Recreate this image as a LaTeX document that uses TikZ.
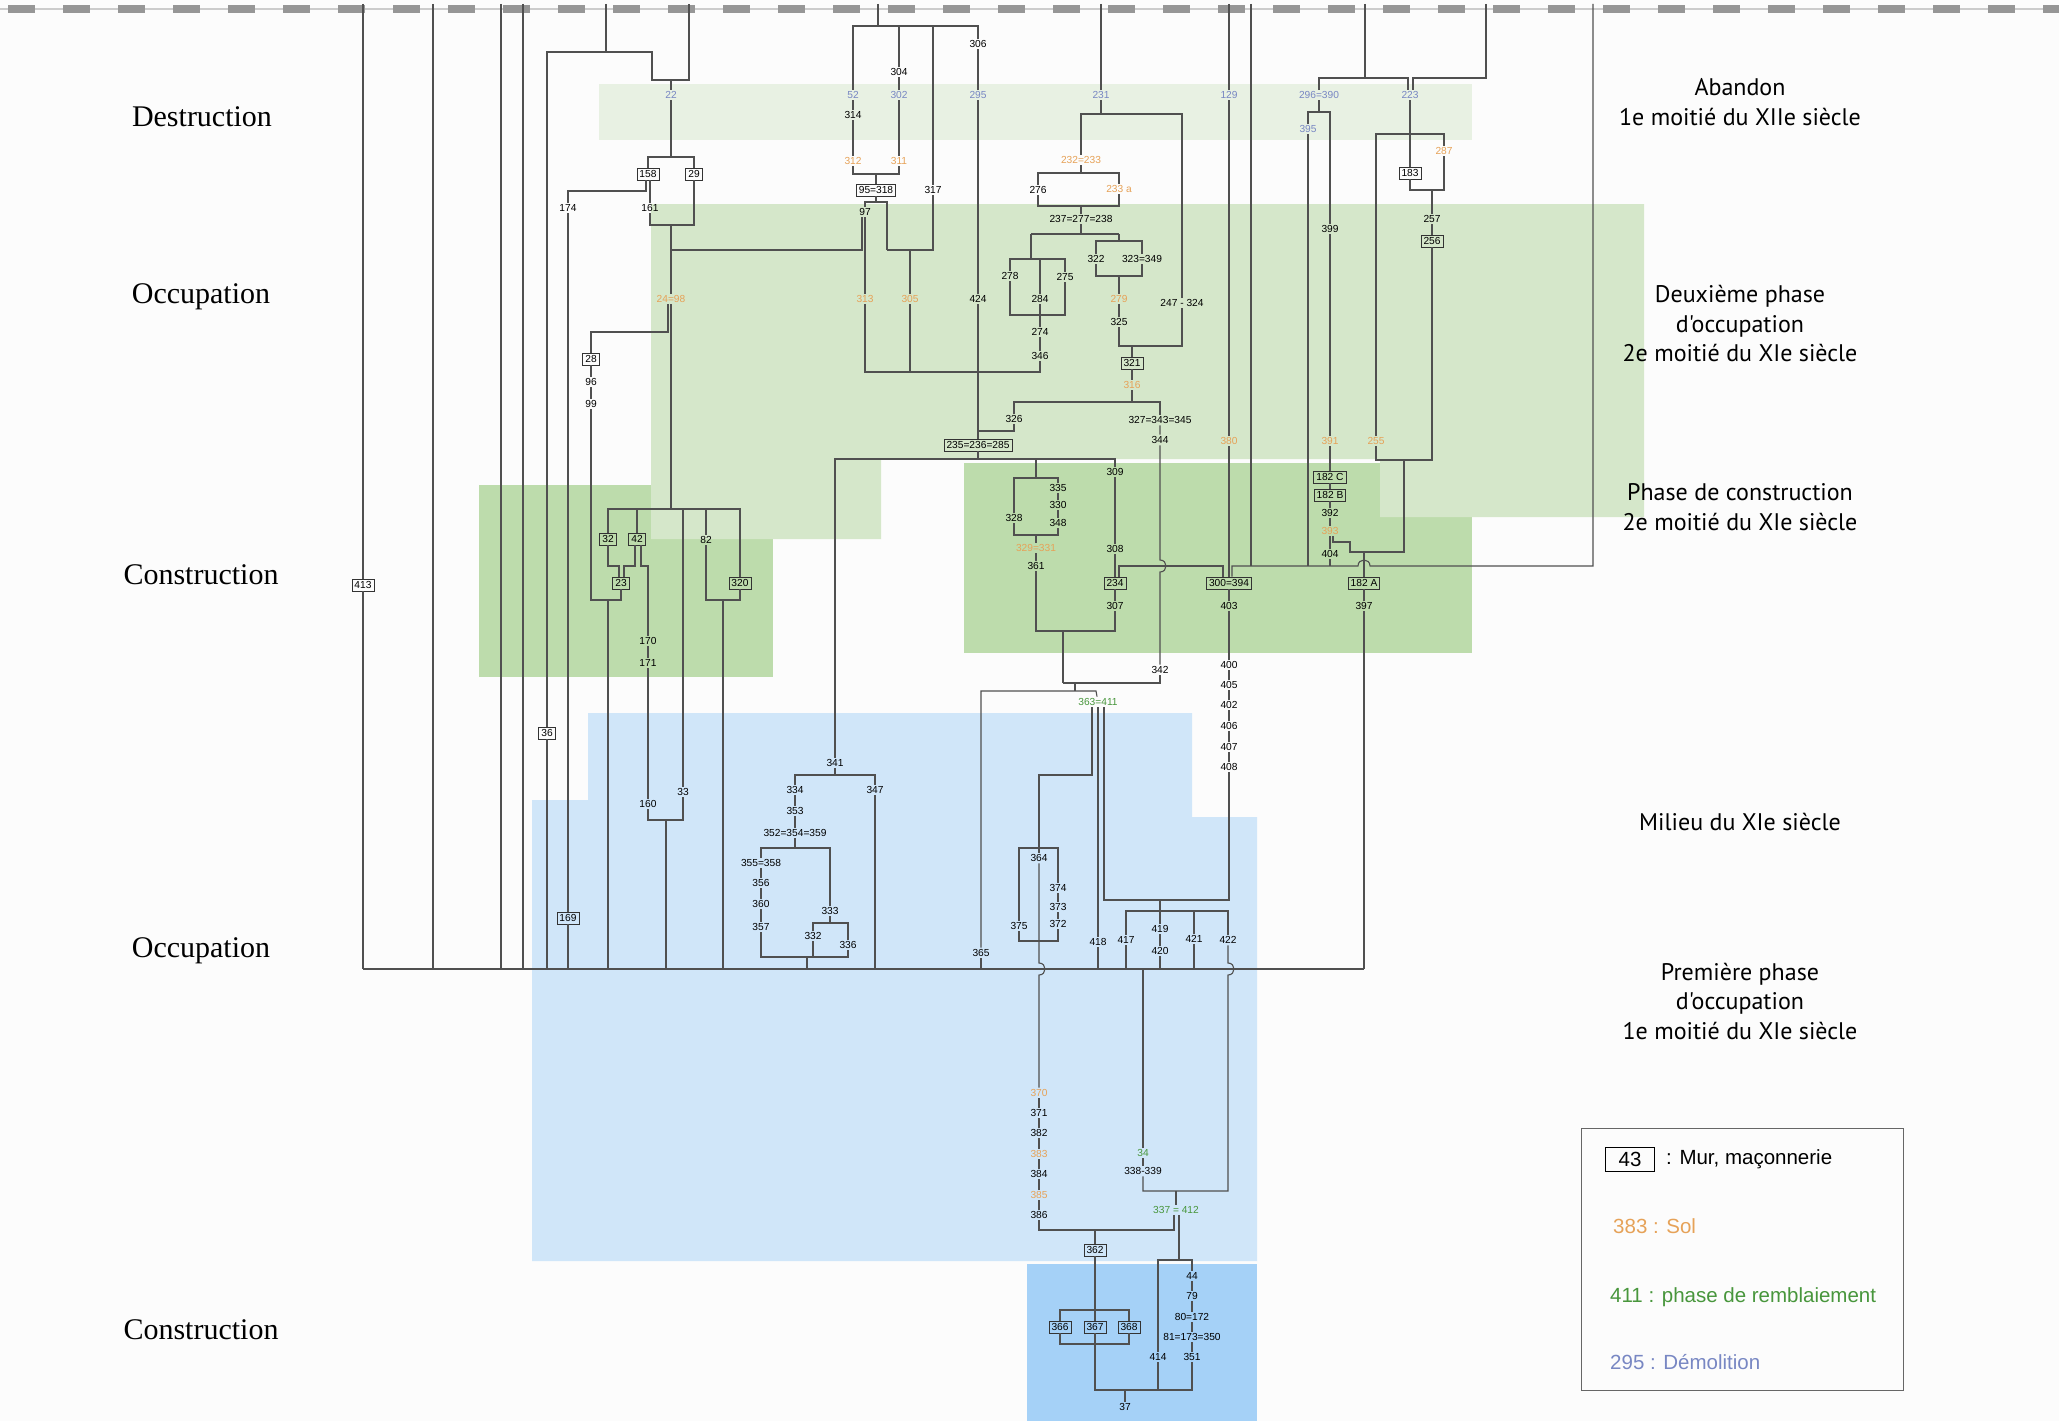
\documentclass[tikz,border=0pt]{standalone}
\usepackage{fontspec}
\setmainfont{Liberation Serif}
\newfontfamily\hsans{Liberation Sans}
\newfontfamily\msans{PT Sans}
\definecolor{orng}{RGB}{230,162,88}
\definecolor{grnt}{RGB}{72,150,60}
\definecolor{blut}{RGB}{120,135,195}
\definecolor{gdest}{RGB}{232,241,227}
\definecolor{gocc}{RGB}{213,231,202}
\definecolor{gcon}{RGB}{189,220,172}
\definecolor{bocc}{RGB}{208,230,249}
\definecolor{bcon}{RGB}{165,209,247}
\definecolor{lncol}{RGB}{80,80,80}
\definecolor{dashc}{RGB}{150,150,150}
\definecolor{bgc}{RGB}{252,252,252}
\begin{document}
\begin{tikzpicture}[x=1pt,y=-1pt,
  lab/.style={font=\hsans\fontsize{10.2}{11}\selectfont, inner sep=1.6pt, text=black},
  mur/.style={lab, draw=black!80, line width=0.9pt, inner xsep=2.5pt, inner ysep=1pt, minimum height=12pt},
  sol/.style={lab, text=orng},
  remb/.style={lab, text=grnt},
  demo/.style={lab, text=blut},
  ln/.style={draw=lncol, line width=1.1pt},
  period/.style={font=\fontsize{30}{34}\selectfont},
  phase/.style={font=\msans\fontsize{24}{29.5}\selectfont, align=center},
  leg/.style={font=\hsans\fontsize{20.5}{24}\selectfont, anchor=west, inner sep=0pt}
]
\useasboundingbox (0,0) rectangle (2059,1421);
\fill[bgc] (0,0) rectangle (2059,1421);

% ---------- coloured phases ----------
\fill[gdest] (599,84) rectangle (1472,140);
\fill[gcon] (479,485) rectangle (773,677);
\fill[gcon] (964,463) rectangle (1472,653);
\fill[gocc] (651,204) -- (1644,204) -- (1644,517) -- (1380,517) -- (1380,459) -- (881,459) -- (881,539) -- (651,539) -- cycle;
\fill[bocc] (588,713) -- (1192,713) -- (1192,817) -- (1257,817) -- (1257,1261) -- (532,1261) -- (532,800) -- (588,800) -- cycle;
\fill[bcon] (1027,1264) rectangle (1257,1421);

% ---------- top surface line ----------
\draw[black!20, line width=1.5pt] (0,9) -- (2059,9);
\draw[dashc, line width=8pt, dash pattern=on 27pt off 28pt] (8,9) -- (2059,9);

% ---------- period labels ----------
\node[period] (lDest) at (202,117) {Destruction};
\node[period] (lOcc2) at (201,297) {Occupation};
\node[period] (lCon2) at (201,575) {Construction};
\node[period] (lOcc1) at (201,951) {Occupation};
\node[period] (lCon1) at (201,1330) {Construction};

\node[phase] (pA) at (1740,102) {Abandon\\1e moitié du XIIe siècle};
\node[phase] (pB) at (1740,324) {Deuxième phase\\d'occupation\\2e moitié du XIe siècle};
\node[phase] (pC) at (1740,507) {Phase de construction\\2e moitié du XIe siècle};
\node[phase] (pD) at (1740,822) {Milieu du XIe siècle};
\node[phase] (pE) at (1740,1001) {Première phase\\d'occupation\\1e moitié du XIe siècle};

% ---------- legend ----------
\node[draw=black!60, line width=1pt, minimum width=322pt, minimum height=262pt, inner sep=0pt] (legend) at (1742,1259) {};
\node[draw=black, line width=0.9pt, minimum width=49pt, minimum height=24pt, inner sep=0pt, font=\hsans\fontsize{20.5}{24}\selectfont] (l43) at (1630,1159) {43};
\node[leg] (lmur) at (1666,1159) {: Mur, maçonnerie};
\node[leg, text=orng] (lsol) at (1613,1226) {383 : Sol};
\node[leg, text=grnt] (lremb) at (1610,1297) {411 : phase de remblaiement};
\node[leg, text=blut] (ldemo) at (1610,1362) {295 : Démolition};

% ---------- free ends ----------
\foreach \x in {363,433,501,523,606,689,878,1101,1229,1251,1365,1486,1593}
  \coordinate (t\x) at (\x,4);
\foreach \x in {363,433,501,523,547,568,608,666,723,807,875,981,1098,1126,1143,1160,1194,1364}
  \coordinate (b\x) at (\x,969);

% ---------- units ----------
\node[demo] (n22) at (671,95) {22};
\node[demo] (n52) at (853,95) {52};
\node[lab] (n314) at (853,115) {314};
\node[sol] (n312) at (853,161) {312};
\node[lab] (n304) at (899,72) {304};
\node[demo] (n302) at (899,95) {302};
\node[sol] (n311) at (899,161) {311};
\node[lab] (n317) at (933,190) {317};
\node[lab] (n306) at (978,44) {306};
\node[demo] (n295) at (978,95) {295};
\node[lab] (n424) at (978,299) {424};
\node[demo] (n231) at (1101,95) {231};
\node[sol] (n232) at (1081,160) {232=233};
\node[lab] (n276) at (1038,190) {276};
\node[sol] (n233a) at (1119,189) {233 a};
\node[lab] (n237) at (1081,219) {237=277=238};
\node[lab] (n278) at (1010,276) {278};
\node[lab] (n284) at (1040,299) {284};
\node[lab] (n275) at (1065,277) {275};
\node[lab] (n274) at (1040,332) {274};
\node[lab] (n346) at (1040,356) {346};
\node[lab] (n322) at (1096,259) {322};
\node[lab] (n323) at (1142,259) {323=349};
\node[sol] (n279) at (1119,299) {279};
\node[lab] (n325) at (1119,322) {325};
\node[lab] (n247) at (1182,303) {247 - 324};
\node[demo] (n129) at (1229,95) {129};
\node[sol] (n380) at (1229,441) {380};
\node[mur] (n300) at (1229,583) {300=394};
\node[lab] (n403) at (1229,606) {403};
\node[lab] (n400) at (1229,665) {400};
\node[lab] (n405) at (1229,685) {405};
\node[lab] (n402) at (1229,705) {402};
\node[lab] (n406) at (1229,726) {406};
\node[lab] (n407) at (1229,747) {407};
\node[lab] (n408) at (1229,767) {408};
\node[demo] (n296) at (1319,95) {296=390};
\node[demo] (n395) at (1308,129) {395};
\node[lab] (n399) at (1330,229) {399};
\node[sol] (n391) at (1330,441) {391};
\node[mur] (n182c) at (1330,477) {182 C};
\node[mur] (n182b) at (1330,495) {182 B};
\node[lab] (n392) at (1330,513) {392};
\node[sol] (n393) at (1330,531) {393};
\node[lab] (n404) at (1330,554) {404};
\node[demo] (n223) at (1410,95) {223};
\node[mur] (n183) at (1410,173) {183};
\node[sol] (n287) at (1444,151) {287};
\node[lab] (n257) at (1432,219) {257};
\node[mur] (n256) at (1432,241) {256};
\node[sol] (n255) at (1376,441) {255};
\node[mur] (n182a) at (1364,583) {182 A};
\node[lab] (n397) at (1364,606) {397};
\node[mur] (n158) at (648,174) {158};
\node[mur] (n29) at (694,174) {29};
\node[lab] (n174) at (568,208) {174};
\node[lab] (n161) at (650,208) {161};
\node[sol] (n2498) at (671,299) {24=98};
\node[mur] (n28) at (591,359) {28};
\node[lab] (n96) at (591,382) {96};
\node[lab] (n99) at (591,404) {99};
\node[mur] (n95) at (876,190) {95=318};
\node[lab] (n97) at (865,212) {97};
\node[sol] (n313) at (865,299) {313};
\node[sol] (n305) at (910,299) {305};
\node[mur] (n321) at (1132,363) {321};
\node[sol] (n316) at (1132,385) {316};
\node[lab] (n326) at (1014,419) {326};
\node[lab] (n327) at (1160,420) {327=343=345};
\node[lab] (n344) at (1160,440) {344};
\node[lab] (n342) at (1160,670) {342};
\node[mur] (n235) at (978,445) {235=236=285};
\node[lab] (n309) at (1115,472) {309};
\node[lab] (n308) at (1115,549) {308};
\node[mur] (n234) at (1115,583) {234};
\node[lab] (n307) at (1115,606) {307};
\node[lab] (n335) at (1058,488) {335};
\node[lab] (n330) at (1058,505) {330};
\node[lab] (n348) at (1058,523) {348};
\node[lab] (n328) at (1014,518) {328};
\node[sol] (n329) at (1036,548) {329=331};
\node[lab] (n361) at (1036,566) {361};
\node[remb] (n363) at (1098,702) {363=411};
\node[mur] (n32) at (608,539) {32};
\node[mur] (n42) at (637,539) {42};
\node[lab] (n82) at (706,540) {82};
\node[mur] (n23) at (621,583) {23};
\node[mur] (n320) at (740,583) {320};
\node[lab] (n170) at (648,641) {170};
\node[lab] (n171) at (648,663) {171};
\node[lab] (n160) at (648,804) {160};
\node[lab] (n33) at (683,792) {33};
\node[mur] (n413) at (363,585) {413};
\node[mur] (n36) at (547,733) {36};
\node[mur] (n169) at (568,918) {169};
\node[lab] (n341) at (835,763) {341};
\node[lab] (n334) at (795,790) {334};
\node[lab] (n353) at (795,811) {353};
\node[lab] (n352) at (795,833) {352=354=359};
\node[lab] (n355) at (761,863) {355=358};
\node[lab] (n356) at (761,883) {356};
\node[lab] (n360) at (761,904) {360};
\node[lab] (n357) at (761,927) {357};
\node[lab] (n333) at (830,911) {333};
\node[lab] (n332) at (813,936) {332};
\node[lab] (n336) at (848,945) {336};
\node[lab] (n347) at (875,790) {347};
\node[lab] (n365) at (981,953) {365};
\node[lab] (n364) at (1039,858) {364};
\node[lab] (n374) at (1058,888) {374};
\node[lab] (n373) at (1058,907) {373};
\node[lab] (n372) at (1058,924) {372};
\node[lab] (n375) at (1019,926) {375};
\node[lab] (n418) at (1098,942) {418};
\node[lab] (n417) at (1126,940) {417};
\node[lab] (n419) at (1160,929) {419};
\node[lab] (n420) at (1160,951) {420};
\node[lab] (n421) at (1194,939) {421};
\node[lab] (n422) at (1228,940) {422};
\node[sol] (n370) at (1039,1093) {370};
\node[lab] (n371) at (1039,1113) {371};
\node[lab] (n382) at (1039,1133) {382};
\node[sol] (n383) at (1039,1154) {383};
\node[lab] (n384) at (1039,1174) {384};
\node[sol] (n385) at (1039,1195) {385};
\node[lab] (n386) at (1039,1215) {386};
\node[remb] (n34) at (1143,1153) {34};
\node[lab] (n338) at (1143,1171) {338-339};
\node[remb] (n337) at (1176,1210) {337 = 412};
\node[mur] (n362) at (1095,1250) {362};
\node[mur] (n366) at (1060,1327) {366};
\node[mur] (n367) at (1095,1327) {367};
\node[mur] (n368) at (1129,1327) {368};
\node[lab] (n414) at (1158,1357) {414};
\node[lab] (n44) at (1192,1276) {44};
\node[lab] (n79) at (1192,1296) {79};
\node[lab] (n80) at (1192,1317) {80=172};
\node[lab] (n81) at (1192,1337) {81=173=350};
\node[lab] (n351) at (1192,1357) {351};
\node[lab] (n37) at (1125,1407) {37};

% ---------- connectors ----------
% bottom bus
\draw[ln] (b363) -- (b1364);
\draw[ln] (t363) -- (n413) -- (b363);
\draw[ln] (t433) -- (b433);
\draw[ln] (t501) -- (b501);
\draw[ln] (t523) -- (b523);
% 22 group
\draw[ln] (t606) -- (606,52);
\draw[ln] (n36) -- (547,52) -- (652,52) -- (652,80) -- (689,80) -- (t689);
\draw[ln] (n36) -- (b547);
\draw[ln] (n22) -- (671,80);
\draw[ln] (n22) -- (671,157);
\draw[ln] (n158) -- (648,157) -- (694,157) -- (n29);
\draw[ln] ([xshift=-2pt]n158.south) -- (646,191) -- (568,191) -- (n174);
\draw[ln] (n174) -- (n169) -- (b568);
\draw[ln] ([xshift=2pt]n158.south) -- (n161);
\draw[ln] (n161) -- (650,225) -- (694,225) -- (n29);
\draw[ln] (671,225) -- (n2498);
\draw[ln] (671,250) -- (862,250) -- ([xshift=-3pt]n97.south);
\draw[ln] ([xshift=-3pt]n2498.south) -- (668,332) -- (591,332) -- (n28);
\draw[ln] (n28) -- (n96) -- (n99) -- (591,600) -- (621,600) -- (n23);
\draw[ln] (608,600) -- (b608);
\draw[ln] (n2498) -- (671,509);
\draw[ln] (n32) -- (608,509) -- (740,509) -- (n320);
\draw[ln] (n42) -- (637,509);
\draw[ln] (n82) -- (706,509);
\draw[ln] (683,509) -- (n33);
\draw[ln] (n32) -- (608,566) -- (619,566) -- ([xshift=-2pt]n23.north);
\draw[ln] ([xshift=-2pt]n42.south) -- (635,566) -- (624,566) -- ([xshift=3pt]n23.north);
\draw[ln] ([xshift=4pt]n42.south) -- (641,566) -- (648,566) -- (n170) -- (n171) -- (n160);
\draw[ln] (n82) -- (706,600) -- (740,600) -- (n320);
\draw[ln] (723,600) -- (b723);
\draw[ln] (n160) -- (648,820) -- (683,820) -- (n33);
\draw[ln] (666,820) -- (b666);
% 95=318 group
\draw[ln] (t878) -- (878,26);
\draw[ln] (n52) -- (853,26) -- (978,26) -- (n306);
\draw[ln] (n304) -- (899,26);
\draw[ln] (933,26) -- (n317) -- (933,250) -- (887,250);
\draw[ln] (n52) -- (n314) -- (n312) -- (853,174) -- (899,174) -- (n311) -- (n302) -- (n304);
\draw[ln] (876,174) -- (n95);
\draw[ln] (n306) -- (n295) -- (n424) -- (n235);
\draw[ln] (n95) -- (876,202);
\draw[ln] (n97) -- (865,202) -- (887,202) -- (887,250);
\draw[ln] (n97) -- (n313);
\draw[ln] (n313) -- (865,372) -- (1040,372) -- (n346);
\draw[ln] (910,250) -- (n305) -- (910,372);
% 231 group
\draw[ln] (t1101) -- (n231) -- (1101,114);
\draw[ln] (n232) -- (1081,114) -- (1182,114) -- (n247);
\draw[ln] (n247) -- (1182,346) -- (1119,346) -- (n325);
\draw[ln] (n232) -- (1081,173);
\draw[ln] (n276) -- (1038,173) -- (1119,173) -- (n233a);
\draw[ln] (n276) -- (1038,206) -- (1119,206) -- (n233a);
\draw[ln] (1081,206) -- (n237) -- (1081,234);
\draw[ln] (1031,234) -- (1119,234);
\draw[ln] (1031,234) -- (1031,259);
\draw[ln] (n278) -- (1010,259) -- (1065,259) -- (n275);
\draw[ln] (1040,259) -- (n284);
\draw[ln] (n278) -- (1010,315) -- (1065,315) -- (n275);
\draw[ln] (n284) -- (n274) -- (n346);
\draw[ln] (1119,234) -- (1119,241);
\draw[ln] (n322) -- (1096,241) -- (1142,241) -- (n323);
\draw[ln] (n322) -- (1096,276) -- (1142,276) -- (n323);
\draw[ln] (1119,276) -- (n279) -- (n325);
\draw[ln] (1132,346) -- (n321) -- (n316) -- (1132,402);
\draw[ln] (n326) -- (1014,402) -- (1160,402) -- (n327);
\draw[ln] (n326) -- (1014,431) -- (978,431);
\draw[ln] (n327) -- (n344) -- (1160,560) .. controls (1168,560) and (1168,572) .. (1160,572) -- (n342);
\draw[ln] (n342) -- (1160,683) -- (1063,683);
% 235 group
\draw[ln] (n235) -- (978,459);
\draw[ln] (n341) -- (835,459) -- (1115,459) -- (n309);
\draw[ln] (1036,459) -- (1036,478);
\draw[ln] (n328) -- (1014,478) -- (1058,478) -- (n335);
\draw[ln] (n335) -- (n330) -- (n348) -- (1058,535) -- (1014,535) -- (n328);
\draw[ln] (1036,535) -- (n329) -- (n361) -- (1036,631) -- (1115,631) -- (n307);
\draw[ln] (n309) -- (n308) -- (n234) -- (n307);
\draw[ln] (1063,631) -- (1063,683);
\draw[ln] (1075,683) -- (1075,691);
\draw[ln] (n365) -- (981,691) -- (1096,691) -- (n363);
\draw[ln] ([xshift=4pt]n234.north) -- (1119,566) -- (1223,566) -- ([xshift=-6pt]n300.north);
% right side
\draw[ln] ([xshift=3pt]n300.north) -- (1232,566) -- (1358,566) .. controls (1358,558) and (1370,558) .. (1370,566) -- (1593,566) -- (t1593);
\draw[ln] (t1251) -- (1251,566);
\draw[ln] (t1229) -- (n129) -- (n380) -- (n300);
\draw[ln] (n300) -- (n403) -- (n400) -- (n405) -- (n402) -- (n406) -- (n407) -- (n408) -- (1229,900) -- (1104,900) -- ([xshift=6pt]n363.south);
\draw[ln] (1160,900) -- (1160,911);
\draw[ln] (n417) -- (1126,911) -- (1228,911) -- (n422);
\draw[ln] (1160,911) -- (n419) -- (n420) -- (b1160);
\draw[ln] (n417) -- (b1126);
\draw[ln] (1194,911) -- (n421) -- (b1194);
\draw[ln] (n422) -- (1228,963) .. controls (1236,963) and (1236,975) .. (1228,975) -- (1228,1191) -- (1143,1191) -- (n338);
\draw[ln] (t1365) -- (1365,78);
\draw[ln] (n296) -- (1319,78) -- (1408,78) -- ([xshift=-2pt]n223.north);
\draw[ln] (t1486) -- (1486,78) -- (1413,78) -- ([xshift=3pt]n223.north);
\draw[ln] (n296) -- (1319,112);
\draw[ln] (n395) -- (1308,112) -- (1330,112) -- (n399);
\draw[ln] (n395) -- (1308,566);
\draw[ln] (n399) -- (n391) -- (n182c) -- (n182b) -- (n392) -- (n393) -- (n404) -- (1330,566);
\draw[ln] ([xshift=3pt]n393.south) -- (1333,542) -- (1350,542) -- (1350,552) -- (1404,552) -- (1404,460);
\draw[ln] (1364,552) -- (n182a) -- (n397) -- (b1364);
\draw[ln] (n223) -- (n183) -- (1410,190) -- (1444,190) -- (n287);
\draw[ln] (n255) -- (1376,134) -- (1444,134) -- (n287);
\draw[ln] (1432,190) -- (n257) -- (n256) -- (1432,460) -- (1376,460) -- (n255);
% 363=411 group
\draw[ln] ([xshift=-6pt]n363.south) -- (1092,775) -- (1039,775) -- (1039,848);
\draw[ln] (1039,848) -- (n364);
\draw[ln] (n375) -- (1019,848) -- (1058,848) -- (n374);
\draw[ln] (n375) -- (1019,941) -- (1058,941) -- (n372);
\draw[ln] (n374) -- (n373) -- (n372);
\draw[ln] (n364) -- (1039,963) .. controls (1047,963) and (1047,975) .. (1039,975) -- (n370);
\draw[ln] (n363) -- (n418) -- (b1098);
% lower part
\draw[ln] (n370) -- (n371) -- (n382) -- (n383) -- (n384) -- (n385) -- (n386) -- (1039,1230) -- (1174,1230) -- ([xshift=-2pt]n337.south);
\draw[ln] (1095,1230) -- (n362) -- (1095,1310);
\draw[ln] (n366) -- (1060,1310) -- (1129,1310) -- (n368);
\draw[ln] (1095,1310) -- (n367);
\draw[ln] (n366) -- (1060,1344) -- (1129,1344) -- (n368);
\draw[ln] (n367) -- (1095,1344) -- (1095,1390) -- (1192,1390) -- (n351);
\draw[ln] (1125,1390) -- (n37);
\draw[ln] (b1143) -- (n34) -- (n338);
\draw[ln] (1176,1191) -- (n337);
\draw[ln] ([xshift=3pt]n337.south) -- (1179,1260) -- (1158,1260) -- (n414) -- (1158,1390);
\draw[ln] (1179,1260) -- (1192,1260) -- (n44) -- (n79) -- (n80) -- (n81) -- (n351);
% 341 group
\draw[ln] (n334) -- (795,775) -- (875,775) -- (n347) -- (b875);
\draw[ln] (n341) -- (835,775);
\draw[ln] (n334) -- (n353) -- (n352) -- (795,848);
\draw[ln] (n355) -- (761,848) -- (830,848) -- (n333);
\draw[ln] (n355) -- (n356) -- (n360) -- (n357) -- (761,957) -- (848,957) -- (n336);
\draw[ln] (n332) -- (813,923) -- (848,923) -- (n336);
\draw[ln] (n333) -- (830,923);
\draw[ln] (n332) -- (813,957);
\draw[ln] (807,957) -- (b807);
\draw[ln] (n365) -- (b981);
\end{tikzpicture}
\end{document}
